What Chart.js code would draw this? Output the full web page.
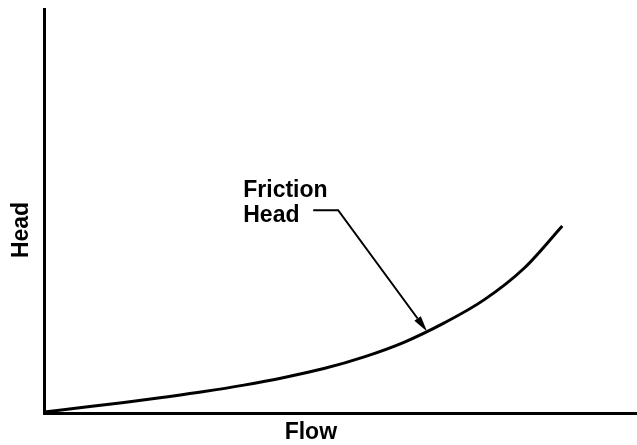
<!DOCTYPE html>
<html>
<head>
<meta charset="utf-8">
<script src="https://cdn.jsdelivr.net/npm/chart.js@4/dist/chart.umd.min.js"></script>
<style>
  html, body { margin: 0; padding: 0; background: #fff; }
  #wrap { width: 637px; height: 445px; }
</style>
</head>
<body>
<div id="wrap"><canvas id="chart"></canvas></div>
<script>
// curve (flow vs friction head, arbitrary units 0-100)
var flow = [0, 6.7, 13.5, 20.2, 27.0, 33.7, 40.5, 47.2, 54.0, 60.7, 67.5, 74.2, 81.0, 87.4];
var head = [0.25, 1.4, 2.6, 3.9, 5.3, 6.9, 8.8, 11.0, 13.9, 17.5, 22.3, 28.0, 35.9, 46.3];
var xTitle = 'Flow';
var yTitle = 'Head';
var noteLines = ['Friction', 'Head'];

// where the note sits, in data units (tip = point on the curve)
var note = { textX: 33.6, textY: [53.5, 47.3], lineX0: 45.4, lineX1: 49.6, lineY: 50.2, tipX: 64.6, tipY: 20.2 };

var points = flow.map(function (x, i) { return { x: x, y: head[i] }; });

var textPlugin = {
    id: 'notes',
    afterDraw: function (chart) {
        var ctx = chart.ctx;
        var xs = chart.scales.x, ys = chart.scales.y;
        ctx.save();
        ctx.fillStyle = '#000';
        ctx.strokeStyle = '#000';
        ctx.font = 'bold 23px "Liberation Sans", Arial, sans-serif';

        // axis titles
        ctx.textAlign = 'center';
        ctx.textBaseline = 'middle';
        ctx.fillText(xTitle, xs.getPixelForValue(45), chart.chartArea.bottom + 20);
        ctx.save();
        ctx.translate(22, ys.getPixelForValue(45.3));
        ctx.rotate(-Math.PI / 2);
        ctx.fillText(yTitle, 0, 0);
        ctx.restore();

        // note text
        ctx.textAlign = 'left';
        ctx.textBaseline = 'alphabetic';
        noteLines.forEach(function (t, i) {
            ctx.fillText(t, xs.getPixelForValue(note.textX), ys.getPixelForValue(note.textY[i]));
        });

        // leader line + arrow
        var x0 = xs.getPixelForValue(note.lineX0);
        var x1 = xs.getPixelForValue(note.lineX1);
        var y0 = ys.getPixelForValue(note.lineY);
        var tx = xs.getPixelForValue(note.tipX);
        var ty = ys.getPixelForValue(note.tipY);
        var ang = Math.atan2(ty - y0, tx - x1);
        var len = 16, half = 4;
        var bx = tx - len * Math.cos(ang), by = ty - len * Math.sin(ang);
        ctx.lineWidth = 2;
        ctx.beginPath();
        ctx.moveTo(x0, y0);
        ctx.lineTo(x1, y0);
        ctx.lineTo(bx, by);
        ctx.stroke();
        ctx.beginPath();
        ctx.moveTo(tx, ty);
        ctx.lineTo(bx + half * Math.sin(ang), by - half * Math.cos(ang));
        ctx.lineTo(bx - half * Math.sin(ang), by + half * Math.cos(ang));
        ctx.closePath();
        ctx.fill();
        ctx.restore();
    }
};

new Chart(document.getElementById('chart'), {
    type: 'line',
    data: {
        datasets: [{
            data: points,
            borderColor: '#000',
            borderWidth: 3,
            pointRadius: 0,
            cubicInterpolationMode: 'monotone',
            fill: false
        }]
    },
    options: {
        responsive: true,
        maintainAspectRatio: false,
        animation: false,
        layout: { padding: { top: 9, right: 0, left: 0, bottom: 0 } },
        plugins: {
            legend: { display: false },
            tooltip: { enabled: false }
        },
        scales: {
            x: {
                type: 'linear',
                min: 0,
                max: 100,
                grid: { display: false },
                ticks: { display: false },
                border: { color: '#000', width: 3 },
                afterFit: function (s) { s.height = 32; }
            },
            y: {
                min: 0,
                max: 100,
                grid: { display: false },
                ticks: { display: false },
                border: { color: '#000', width: 3 },
                afterFit: function (s) { s.width = 44; }
            }
        }
    },
    plugins: [textPlugin]
});
</script>
</body>
</html>
